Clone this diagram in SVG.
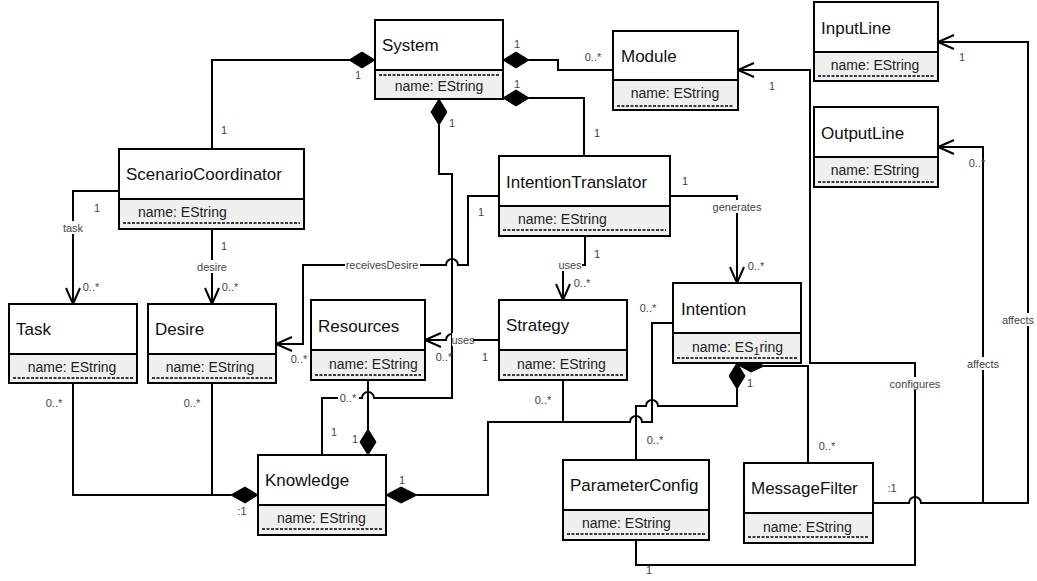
<svg xmlns="http://www.w3.org/2000/svg" width="1037" height="581" viewBox="0 0 1037 581">
<style>
.box{fill:#fff;stroke:#000;stroke-width:2}
.attr{fill:#efefef;stroke:#000;stroke-width:2}
.dash{stroke:#000;stroke-width:1.5;stroke-dasharray:3,1.5}
.cn{font-family:"Liberation Sans",Arial,sans-serif;font-size:17px;fill:#111}
.at{font-family:"Liberation Sans",Arial,sans-serif;font-size:14px;fill:#222}
.ln{fill:none;stroke:#000;stroke-width:2}
.ar{fill:none;stroke:#000;stroke-width:2;marker-end:url(#arr)}
.dia{fill:#000;stroke:#000;stroke-width:1}
.lb{font-family:"Liberation Sans",Arial,sans-serif;font-size:11px;fill:#444;text-anchor:middle}
.bg{fill:#fff}
</style>
<defs>
<marker id="arr" markerUnits="userSpaceOnUse" markerWidth="20" markerHeight="18" refX="17" refY="9" orient="auto">
<path d="M1,2 L17,9 L1,16" fill="none" stroke="#000" stroke-width="2"/>
</marker>
</defs>
<rect width="1037" height="581" fill="#fff"/>

<g id="connectors">
<!-- System - ScenarioCoordinator -->
<polygon class="dia" points="375,60 362,52 349,60 362,68"/>
<path class="ln" d="M349,60 H212 V149"/>
<text class="lb" x="358" y="79">1</text>
<text class="lb" x="224" y="134">1</text>
<!-- System - Module -->
<polygon class="dia" points="503,60 516,52 529,60 516,68"/>
<path class="ln" d="M529,60 H558 V70 H613"/>
<text class="lb" x="517" y="48">1</text>
<text class="lb" x="593" y="61">0..*</text>
<!-- System - IntentionTranslator -->
<polygon class="dia" points="503,98 516,90 529,98 516,106"/>
<path class="ln" d="M529,98 H584 V156"/>
<text class="lb" x="517" y="88">1</text>
<text class="lb" x="597" y="137">1</text>
<!-- System - Knowledge -->
<polygon class="dia" points="439,99 447,112 439,125 431,112"/>
<path class="ln" d="M439,125 V174 H452 V398 H374 A6,6 0 0 0 362,398 H322 V455"/>
<text class="lb" x="452" y="127">1</text>
<rect class="bg" x="338" y="392" width="21" height="11"/>
<text class="lb" x="348" y="402">0..*</text>
<text class="lb" x="334" y="436">1</text>
<!-- Strategy uses Resources -->
<path class="ar" d="M499,340 H458 A6,6 0 0 0 446,340 H425"/>
<rect class="bg" x="452" y="333" width="21" height="13"/>
<text class="lb" x="463" y="344">uses</text>
<text class="lb" x="444" y="361">0..*</text>
<text class="lb" x="485" y="361">1</text>
<!-- ScenarioCoordinator task Task -->
<path class="ar" d="M119,191 H73 V304"/>
<rect class="bg" x="62" y="221" width="22" height="13"/>
<text class="lb" x="73" y="232">task</text>
<text class="lb" x="97" y="212">1</text>
<text class="lb" x="91" y="291">0..*</text>
<!-- ScenarioCoordinator desire Desire -->
<path class="ar" d="M212,229 V304"/>
<rect class="bg" x="197" y="260" width="30" height="13"/>
<text class="lb" x="212" y="271">desire</text>
<text class="lb" x="224" y="250">1</text>
<text class="lb" x="230" y="291">0..*</text>
<!-- IntentionTranslator receivesDesire Desire -->
<path class="ar" d="M499,196 H468 V265 H458 A6,6 0 0 0 446,265 H303 V344 H276"/>
<rect class="bg" x="345" y="258" width="75" height="13"/>
<text class="lb" x="382" y="269">receivesDesire</text>
<text class="lb" x="481" y="216">1</text>
<text class="lb" x="299" y="363">0..*</text>
<!-- IntentionTranslator uses Strategy -->
<path class="ar" d="M585,236 V265 H563 V300"/>
<rect class="bg" x="559" y="258" width="23" height="13"/>
<text class="lb" x="570" y="269">uses</text>
<text class="lb" x="597" y="258">1</text>
<text class="lb" x="582" y="287">0..*</text>
<!-- IntentionTranslator generates Intention -->
<path class="ar" d="M670,196 H737 V283"/>
<rect class="bg" x="711" y="200" width="52" height="13"/>
<text class="lb" x="737" y="211">generates</text>
<text class="lb" x="685" y="185">1</text>
<text class="lb" x="756" y="270">0..*</text>
<!-- Knowledge - Strategy / Intention -->
<polygon class="dia" points="386,495 401,487 417,495 401,503"/>
<path class="ln" d="M417,495 H488 V422 H630 A6,6 0 0 1 642,422 H652 V323 H673"/>
<path class="ln" d="M563,380 V422"/>
<text class="lb" x="402" y="484">1</text>
<text class="lb" x="543" y="404">0..*</text>
<text class="lb" x="648" y="312">0..*</text>
<!-- Intention - ParameterConfig -->
<polygon class="dia" points="737,363 745,376 737,389 729,376"/>
<path class="ln" d="M737,389 V406 H658 A6,6 0 0 0 646,406 H636 V460"/>
<text class="lb" x="750" y="387">1</text>
<text class="lb" x="655" y="444">0..*</text>
<!-- Intention - MessageFilter -->
<polygon class="dia" points="738,365 750,358 764,366 751,372"/>
<path class="ln" d="M764,366 H808 V463"/>
<text class="lb" x="827" y="450">0..*</text>
<!-- Module configures ParameterConfig -->
<path class="ar" d="M636,540 V565 H915 V363 H810 V70 H738"/>
<rect class="bg" x="888" y="377" width="54" height="13"/>
<text class="lb" x="915" y="388">configures</text>
<text class="lb" x="649" y="574">1</text>
<text class="lb" x="772" y="90">1</text>
<!-- MessageFilter affects InputLine / OutputLine -->
<path class="ar" d="M873,503 H909 A6,6 0 0 1 921,503 H1028 V42 H938"/>
<path class="ar" d="M983,503 V147 H938"/>
<rect class="bg" x="1000" y="313" width="36" height="13"/>
<text class="lb" x="1018" y="324">affects</text>
<rect class="bg" x="965" y="357" width="36" height="13"/>
<text class="lb" x="983" y="368">affects</text>
<text class="lb" x="962" y="61">1</text>
<text class="lb" x="977" y="167">0..*</text>
<text class="lb" x="892" y="492">:1</text>
<!-- Task / Desire - Knowledge -->
<polygon class="dia" points="258,495 245,487 231,495 245,503"/>
<path class="ln" d="M231,495 H73 V383"/>
<path class="ln" d="M212,383 V495"/>
<text class="lb" x="54" y="407">0..*</text>
<text class="lb" x="192" y="407">0..*</text>
<text class="lb" x="242" y="515">:1</text>
<!-- Knowledge - Resources -->
<polygon class="dia" points="368,455 376,442 368,429 360,442"/>
<path class="ln" d="M368,429 V380"/>
<text class="lb" x="355" y="443">1</text>
</g>

<g id="System">
<rect class="box" x="375" y="20" width="128" height="50"/>
<rect class="attr" x="375" y="70" width="128" height="29"/>
<line class="dash" x1="379" y1="75" x2="499" y2="75"/>
<text class="cn" x="382" y="51">System</text>
<text class="at" x="439" y="91" text-anchor="middle">name: EString</text>
</g>
<g id="Module">
<rect class="box" x="613" y="31" width="125" height="49"/>
<rect class="attr" x="613" y="80" width="125" height="30"/>
<line class="dash" x1="617" y1="106" x2="734" y2="106"/>
<text class="cn" x="621" y="62">Module</text>
<text class="at" x="675" y="98" text-anchor="middle">name: EString</text>
</g>
<g id="InputLine">
<rect class="box" x="814" y="2" width="124" height="50"/>
<rect class="attr" x="814" y="52" width="124" height="29"/>
<line class="dash" x1="818" y1="76" x2="934" y2="76"/>
<text class="cn" x="821" y="34">InputLine</text>
<text class="at" x="875" y="70" text-anchor="middle">name: EString</text>
</g>
<g id="OutputLine">
<rect class="box" x="814" y="107" width="124" height="50"/>
<rect class="attr" x="814" y="157" width="124" height="30"/>
<line class="dash" x1="818" y1="182" x2="934" y2="182"/>
<text class="cn" x="821" y="139">OutputLine</text>
<text class="at" x="875" y="175" text-anchor="middle">name: EString</text>
</g>
<g id="ScenarioCoordinator">
<rect class="box" x="119" y="149" width="185" height="50"/>
<rect class="attr" x="119" y="199" width="185" height="30"/>
<line class="dash" x1="123" y1="223" x2="300" y2="223"/>
<text class="cn" x="126" y="180">ScenarioCoordinator</text>
<text class="at" x="138" y="217">name: EString</text>
</g>
<g id="Task">
<rect class="box" x="9" y="304" width="128" height="50"/>
<rect class="attr" x="9" y="354" width="128" height="29"/>
<line class="dash" x1="13" y1="378" x2="133" y2="378"/>
<text class="cn" x="16" y="335">Task</text>
<text class="at" x="72" y="372" text-anchor="middle">name: EString</text>
</g>
<g id="Desire">
<rect class="box" x="148" y="304" width="128" height="50"/>
<rect class="attr" x="148" y="354" width="128" height="29"/>
<line class="dash" x1="152" y1="378" x2="272" y2="378"/>
<text class="cn" x="155" y="335">Desire</text>
<text class="at" x="210" y="372" text-anchor="middle">name: EString</text>
</g>
<g id="Resources">
<rect class="box" x="311" y="300" width="114" height="50"/>
<rect class="attr" x="311" y="350" width="114" height="30"/>
<line class="dash" x1="315" y1="375" x2="421" y2="375"/>
<text class="cn" x="318" y="332">Resources</text>
<text class="at" x="329" y="369">name: EString</text>
</g>
<g id="Strategy">
<rect class="box" x="499" y="300" width="128" height="50"/>
<rect class="attr" x="499" y="350" width="128" height="30"/>
<line class="dash" x1="503" y1="375" x2="623" y2="375"/>
<text class="cn" x="506" y="331">Strategy</text>
<text class="at" x="517" y="369">name: EString</text>
</g>
<g id="IntentionTranslator">
<rect class="box" x="499" y="156" width="171" height="50"/>
<rect class="attr" x="499" y="206" width="171" height="30"/>
<line class="dash" x1="503" y1="230" x2="666" y2="230"/>
<text class="cn" x="506" y="188">IntentionTranslator</text>
<text class="at" x="518" y="224">name: EString</text>
</g>
<g id="Intention">
<rect class="box" x="673" y="283" width="128" height="50"/>
<rect class="attr" x="673" y="333" width="128" height="30"/>
<line class="dash" x1="677" y1="358" x2="797" y2="358"/>
<text class="cn" x="681" y="315">Intention</text>
<text class="at" x="692" y="352">name: ES<tspan font-size="11" dy="3">1</tspan><tspan dy="-3">ring</tspan></text>
</g>
<g id="Knowledge">
<rect class="box" x="258" y="455" width="128" height="50"/>
<rect class="attr" x="258" y="505" width="128" height="30"/>
<line class="dash" x1="262" y1="529" x2="382" y2="529"/>
<text class="cn" x="265" y="486">Knowledge</text>
<text class="at" x="277" y="523">name: EString</text>
</g>
<g id="ParameterConfig">
<rect class="box" x="563" y="460" width="146" height="50"/>
<rect class="attr" x="563" y="510" width="146" height="30"/>
<line class="dash" x1="567" y1="534" x2="705" y2="534"/>
<text class="cn" x="570" y="491">ParameterConfig</text>
<text class="at" x="582" y="528">name: EString</text>
</g>
<g id="MessageFilter">
<rect class="box" x="744" y="463" width="129" height="50"/>
<rect class="attr" x="744" y="513" width="129" height="30"/>
<line class="dash" x1="748" y1="537" x2="869" y2="537"/>
<text class="cn" x="751" y="494">MessageFilter</text>
<text class="at" x="763" y="532">name: EString</text>
</g>
</svg>
